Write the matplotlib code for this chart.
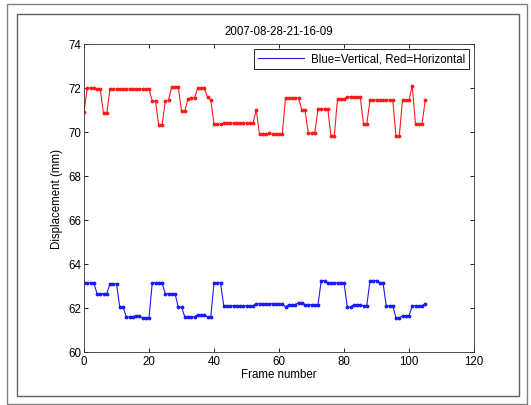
import matplotlib.pyplot as plt
from matplotlib.patches import Rectangle

plt.rcParams['font.family'] = ['Liberation Sans', 'DejaVu Sans']
plt.rcParams['font.size'] = 8.3

title = "2007-08-28-21-16-09"
legend_label = "Blue=Vertical, Red=Horizontal"

horizontal = [
    70.9, 72.0, 72.0, 72.0, 71.95, 71.95, 70.85, 70.85,
    71.95, 71.95, 71.95, 71.95, 71.95, 71.95, 71.95, 71.95, 71.95, 71.95, 71.95, 71.95, 71.95,
    71.4, 71.4, 70.3, 70.3, 71.4, 71.45, 72.05, 72.05, 72.05, 70.95, 70.95,
    71.5, 71.55, 71.55, 72.0, 72.0, 72.0, 71.6, 71.45, 70.35, 70.35, 70.35,
    70.4, 70.4, 70.4, 70.4, 70.4, 70.4, 70.4, 70.4, 70.4, 70.4,
    71.0, 69.9, 69.9, 69.9, 69.95, 69.9, 69.9, 69.9, 69.9,
    71.55, 71.55, 71.55, 71.55, 71.55, 71.0, 71.0, 69.95, 69.95, 69.95,
    71.05, 71.05, 71.05, 71.05, 69.8, 69.8, 71.5, 71.5, 71.5,
    71.6, 71.6, 71.6, 71.6, 71.6, 70.35, 70.35,
    71.45, 71.45, 71.45, 71.45, 71.45, 71.45, 71.45, 71.45, 69.8, 69.8,
    71.45, 71.45, 71.45, 72.1, 70.35, 70.35, 70.35, 71.45,
]

vertical = [
    63.15, 63.15, 63.15, 63.15, 62.65, 62.65, 62.65, 62.65,
    63.1, 63.1, 63.1, 62.05, 62.05, 61.6, 61.6, 61.6, 61.65, 61.65,
    61.55, 61.55, 61.55, 63.15, 63.15, 63.15, 63.15, 62.65, 62.65, 62.65, 62.65,
    62.05, 62.05, 61.6, 61.6, 61.6, 61.6, 61.7, 61.7, 61.7, 61.6, 61.6,
    63.15, 63.15, 63.15,
    62.1, 62.1, 62.1, 62.1, 62.1, 62.1, 62.1, 62.1, 62.1, 62.1,
    62.2, 62.2, 62.2, 62.2, 62.2, 62.2, 62.2, 62.2, 62.2,
    62.05, 62.15, 62.15, 62.15, 62.25, 62.25, 62.15, 62.15, 62.15, 62.15, 62.15,
    63.25, 63.25, 63.15, 63.15, 63.15, 63.15, 63.15, 63.15,
    62.05, 62.05, 62.15, 62.15, 62.15, 62.1, 62.1,
    63.25, 63.25, 63.25, 63.15, 63.15, 62.1, 62.1, 62.1,
    61.55, 61.55, 61.65, 61.65, 61.65, 62.1, 62.1, 62.1, 62.1, 62.2,
]

frames = list(range(len(horizontal)))

fig = plt.figure(figsize=(5.31, 4.06), dpi=100)
fig.patch.set_facecolor('white')

# window frame around the figure (screenshot border)
fig.patches.append(Rectangle((7 / 531, 1 - 405 / 406), 520 / 531, 400 / 406,
                             transform=fig.transFigure, fill=False,
                             edgecolor='#808080', linewidth=1.0))
fig.patches.append(Rectangle((17 / 531, 1 - 397 / 406), 502 / 531, 382 / 406,
                             transform=fig.transFigure, fill=False,
                             edgecolor='#606060', linewidth=1.0))

ax = fig.add_axes([84 / 531, 53 / 406, 390 / 531, 308 / 406])
ax.plot(frames, vertical, '.-', color='#1a1aff', markersize=3.5, linewidth=0.8,
        label=legend_label)
ax.plot(frames, horizontal, '.-', color='#ff1a1a', markersize=3.5, linewidth=0.8)

ax.set_xlim(0, 120)
ax.set_ylim(60, 74)
ax.set_xticks(range(0, 121, 20))
ax.set_yticks(range(60, 75, 2))
ax.tick_params(direction='in', top=True, right=True, length=3, width=0.6, pad=2)
for s in ax.spines.values():
    s.set_linewidth(0.6)
    s.set_color('#333333')

ax.set_title(title, fontsize=8.3, pad=7)
ax.set_xlabel("Frame number", labelpad=1)
ax.set_ylabel("Displacement (mm)", labelpad=4)

leg = ax.legend(loc='upper right', handlelength=4, markerscale=0,
                fancybox=False, borderaxespad=0.4, framealpha=1,
                borderpad=0.35, handletextpad=0.6)
leg.get_frame().set_edgecolor('black')
leg.get_frame().set_linewidth(0.6)

fig.savefig('out.png', dpi=100)
